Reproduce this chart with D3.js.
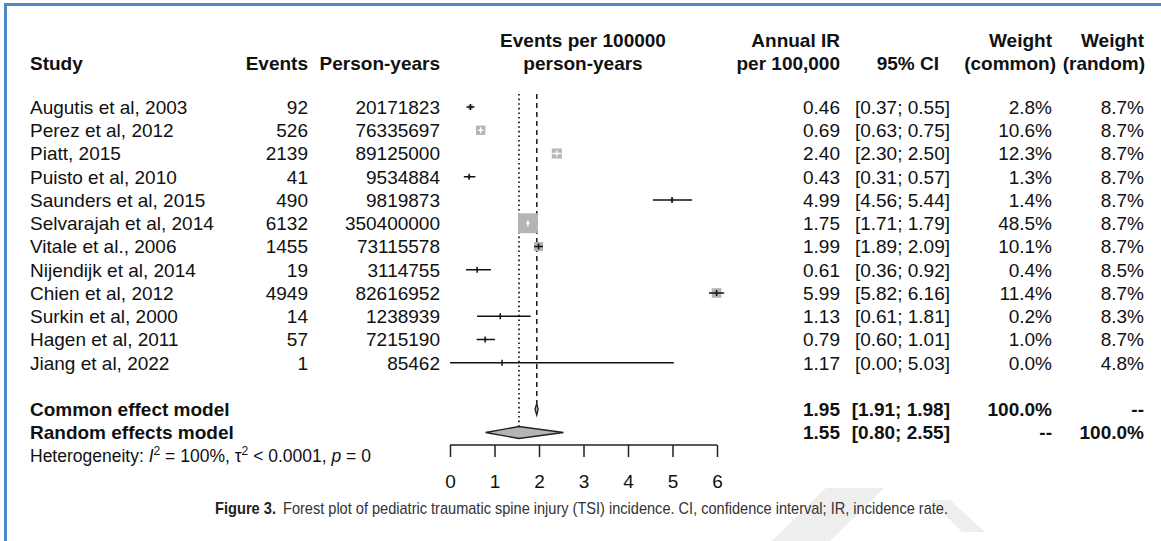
<!DOCTYPE html>
<html><head><meta charset="utf-8">
<script src="https://cdn.jsdelivr.net/npm/d3@7"></script>
<style>
html,body{margin:0;padding:0;background:#fff;}
svg text{font-family:"Liberation Sans",Arial,Helvetica,sans-serif;fill:#111;}
</style></head>
<body>
<svg id="chart" width="1161" height="541"></svg>
<script>
const studies = ["Augutis et al, 2003","Perez et al, 2012","Piatt, 2015","Puisto et al, 2010","Saunders et al, 2015","Selvarajah et al, 2014","Vitale et al., 2006","Nijendijk et al, 2014","Chien et al, 2012","Surkin et al, 2000","Hagen et al, 2011","Jiang et al, 2022"];
const events = [92,526,2139,41,490,6132,1455,19,4949,14,57,1];
const personYears = [20171823,76335697,89125000,9534884,9819873,350400000,73115578,3114755,82616952,1238939,7215190,85462];
const ir = [0.46,0.69,2.40,0.43,4.99,1.75,1.99,0.61,5.99,1.13,0.79,1.17];
const ciLow = [0.37,0.63,2.30,0.31,4.56,1.71,1.89,0.36,5.82,0.61,0.60,0.00];
const ciHigh = [0.55,0.75,2.50,0.57,5.44,1.79,2.09,0.92,6.16,1.81,1.01,5.03];
const wCommon = [2.8,10.6,12.3,1.3,1.4,48.5,10.1,0.4,11.4,0.2,1.0,0.0];
const wRandom = [8.7,8.7,8.7,8.7,8.7,8.7,8.7,8.5,8.7,8.3,8.7,4.8];
const models = ["Common effect model","Random effects model"];
const modelEst = [1.95,1.55];
const modelLow = [1.91,0.80];
const modelHigh = [1.98,2.55];
const modelWCommon = ["100.0%","--"];
const modelWRandom = ["--","100.0%"];
const axisTicks = [0,1,2,3,4,5,6];

const svg = d3.select("#chart");
const FS = 19;

// border
svg.append("line").attr("x1",5.5).attr("x2",1161).attr("y1",4.5).attr("y2",4.5).attr("stroke","#4f88c9").attr("stroke-width",3);
svg.append("line").attr("x1",5.5).attr("x2",5.5).attr("y1",3).attr("y2",541).attr("stroke","#4f88c9").attr("stroke-width",3);

// watermark (faint)
const wm = svg.append("g").attr("fill","#eeeeee");
wm.append("polygon").attr("points","826,488 884,488 830,541 772,541");
wm.append("polygon").attr("points","930,500 950,500 985,532 962,532");

const x = d3.scaleLinear().domain([0,6]).range([450,717]);
const rowY = d3.scaleLinear().domain([0,1]).range([107,130.25]);

function txt(xp, yp, s, anchor, bold, size){
  return svg.append("text").attr("x",xp).attr("y",yp).attr("dy","0.36em")
    .attr("text-anchor",anchor||"start").attr("font-size",size||FS)
    .attr("font-weight",bold?"bold":"normal").text(s);
}

// headers
const h1 = 40, h2 = 63;
txt(30,h2,"Study","start",true);
txt(308,h2,"Events","end",true);
txt(440,h2,"Person-years","end",true);
txt(583,h1,"Events per 100000","middle",true);
txt(583,h2,"person-years","middle",true);
txt(840,h1,"Annual IR","end",true);
txt(840,h2,"per 100,000","end",true);
txt(939,h2,"95% CI","end",true);
txt(1052,h1,"Weight","end",true);
txt(1056,h2,"(common)","end",true);
txt(1144,h1,"Weight","end",true);
txt(1145,h2,"(random)","end",true);

const fmt2 = d3.format(".2f");
const fmt1 = d3.format(".1f");

// reference lines
svg.append("line").attr("x1",x(modelEst[1])).attr("x2",x(modelEst[1]))
  .attr("y1",94).attr("y2",rowY(14)-6).attr("stroke","#222").attr("stroke-width",1.8).attr("stroke-dasharray","1.6,3");
svg.append("line").attr("x1",x(modelEst[0])).attr("x2",x(modelEst[0]))
  .attr("y1",94).attr("y2",rowY(13)-6).attr("stroke","#222").attr("stroke-width",1.6).attr("stroke-dasharray","5,4");

// study rows
const k = 2.85;
studies.forEach((s,i)=>{
  const y = rowY(i);
  txt(30,y,s);
  txt(308,y,String(events[i]),"end");
  txt(440,y,String(personYears[i]),"end");
  txt(840,y,fmt2(ir[i]),"end");
  txt(950,y,"["+fmt2(ciLow[i])+"; "+fmt2(ciHigh[i])+"]","end");
  txt(1052,y,fmt1(wCommon[i])+"%","end");
  txt(1144,y,fmt1(wRandom[i])+"%","end");
  const side = k*Math.sqrt(wCommon[i]);
  if(side>0){
    svg.append("rect").attr("x",x(ir[i])-side/2).attr("y",y-side/2)
      .attr("width",side).attr("height",side).attr("fill","#b4b4b4");
  }
  const inside = (x(ciHigh[i])-x(ciLow[i])) < side - 0.8;
  const col = inside ? "#ffffff" : "#111";
  svg.append("line").attr("x1",x(ciLow[i])).attr("x2",x(ciHigh[i])).attr("y1",y).attr("y2",y)
    .attr("stroke",col).attr("stroke-width",1.5);
  svg.append("line").attr("x1",x(ir[i])).attr("x2",x(ir[i])).attr("y1",y-3).attr("y2",y+3)
    .attr("stroke",col).attr("stroke-width",1.5);
});

// model rows
models.forEach((m,j)=>{
  const y = rowY(13+j);
  txt(30,y,m,"start",true);
  txt(840,y,fmt2(modelEst[j]),"end",true);
  txt(950,y,"["+fmt2(modelLow[j])+"; "+fmt2(modelHigh[j])+"]","end",true);
  txt(1052,y,modelWCommon[j],"end",true);
  txt(1144,y,modelWRandom[j],"end",true);
  const hh = 6;
  svg.append("polygon")
    .attr("points",[[x(modelLow[j]),y],[x(modelEst[j]),y-hh],[x(modelHigh[j]),y],[x(modelEst[j]),y+hh]].map(p=>p.join(",")).join(" "))
    .attr("fill","#b4b4b4").attr("stroke","#222").attr("stroke-width",1.3);
});

// heterogeneity
const het = svg.append("text").attr("x",30).attr("y",rowY(15)).attr("dy","0.36em").attr("font-size",17.5);
het.append("tspan").text("Heterogeneity: ");
het.append("tspan").attr("font-style","italic").text("I");
het.append("tspan").attr("font-size",12).attr("baseline-shift","super").text("2");
het.append("tspan").text(" = 100%, τ");
het.append("tspan").attr("font-size",12).attr("baseline-shift","super").text("2");
het.append("tspan").text(" < 0.0001, ");
het.append("tspan").attr("font-style","italic").text("p");
het.append("tspan").text(" = 0");

// axis
const axisG = svg.append("g").attr("transform","translate(0,445)")
  .call(d3.axisBottom(x).tickValues(axisTicks).tickSize(12).tickPadding(18).tickFormat(d3.format("d")));
axisG.select(".domain").attr("stroke","#222").attr("stroke-width",1.5).attr("d","M450,0H717");
axisG.selectAll(".tick line").attr("stroke","#222").attr("stroke-width",1.5);
axisG.selectAll(".tick text").attr("font-size",FS).attr("fill","#111")
  .attr("font-family","Liberation Sans, Arial, sans-serif");

// caption
svg.append("text").attr("x",215).attr("y",508).attr("dy","0.36em").attr("font-size",17)
  .attr("font-weight","bold").attr("textLength",61).attr("lengthAdjust","spacingAndGlyphs")
  .style("fill","#222").text("Figure 3.");
svg.append("text").attr("x",283).attr("y",508).attr("dy","0.36em").attr("font-size",17)
  .attr("textLength",665).attr("lengthAdjust","spacingAndGlyphs").style("fill","#333")
  .text("Forest plot of pediatric traumatic spine injury (TSI) incidence. CI, confidence interval; IR, incidence rate.");
</script>
</body></html>
